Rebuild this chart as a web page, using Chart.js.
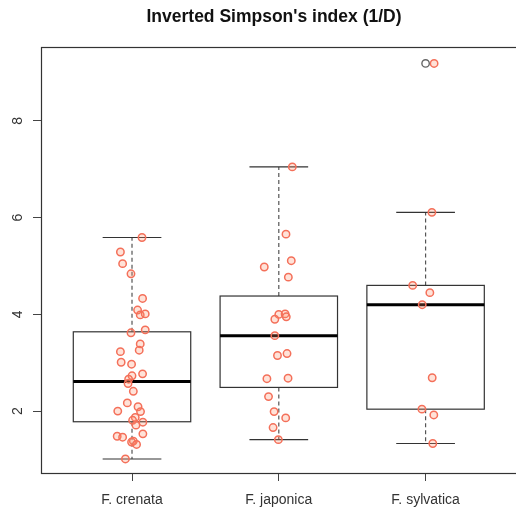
<!DOCTYPE html>
<html>
<head>
<meta charset="utf-8">
<script src="https://cdn.jsdelivr.net/npm/chart.js@4"></script>
<style>
    body { margin: 0; width: 516px; height: 508px; overflow: hidden; background: #fff; }
    #wrap { width: 522px; height: 508px; }
</style>
</head>
<body>
<div id="wrap"><canvas id="myChart"></canvas></div>
<script>
const categories = ['F. crenata', 'F. japonica', 'F. sylvatica'];
const yTicks = [2, 4, 6, 8];

// values, with the horizontal jitter of each point
const crenataValues = [5.59, 5.29, 5.05, 4.84, 4.33, 4.09, 3.99, 4.01, 3.68, 3.62, 3.39, 3.26, 3.23, 3.01, 2.97,
    2.77, 2.73, 2.66, 2.57, 2.41, 2.17, 2.09, 2.00, 1.99, 1.87, 1.81, 1.77, 1.71, 1.53, 1.48, 1.46, 1.38, 1.36, 1.31, 1.01];
const crenataJitter = [0.068, -0.079, -0.064, -0.007, 0.072, 0.038, 0.056, 0.090, 0.090, -0.007, 0.056, 0.049, -0.079, -0.074, -0.003,
    0.072, 0.000, -0.023, -0.027, 0.009, -0.032, 0.041, -0.097, 0.058, 0.022, 0.004, 0.074, 0.027, 0.074, -0.101, -0.064, 0.009, -0.003, 0.031, -0.045];

const japonicaValues = [7.05, 5.66, 5.11, 4.98, 4.77, 4.00, 4.01, 3.90, 3.95, 3.56, 3.19, 3.15, 2.67, 2.68, 2.30, 1.99, 1.86, 1.66, 1.41];
const japonicaJitter = [0.092, 0.049, 0.085, -0.099, 0.065, 0.000, 0.043, -0.027, 0.051, -0.027, 0.056, -0.009, -0.081, 0.063, -0.070, -0.032, 0.047, -0.039, -0.003];

const sylvaticaValues = [9.19, 6.11, 4.60, 4.45, 4.20, 2.69, 2.04, 1.92, 1.33];
const sylvaticaJitter = [0.058, 0.043, -0.088, 0.029, -0.023, 0.045, -0.025, 0.056, 0.049];

// box statistics per category
const lowerWhisker = [1.01, 1.41, 1.33];
const lowerHinge = [1.78, 2.49, 2.04];
const medians = [2.61, 3.56, 4.20];
const upperHinge = [3.64, 4.38, 4.60];
const upperWhisker = [5.59, 7.05, 6.11];
const outlierValues = [9.19];
const outlierGroup = [3];

const FONT = "'Liberation Sans', Arial, Helvetica, sans-serif";

function toPoints(values, jitter, group) {
    return values.map((v, i) => ({ x: group + jitter[i], y: v }));
}

const boxPlugin = {
    id: 'boxes',
    beforeDatasetsDraw(chart) {
        const { ctx, chartArea, scales: { x, y } } = chart;
        ctx.save();
        // plot frame
        ctx.strokeStyle = '#333';
        ctx.lineWidth = 1.2;
        ctx.strokeRect(chartArea.left + 0.5, chartArea.top + 0.5, chartArea.right - chartArea.left, chartArea.bottom - chartArea.top);

        categories.forEach((c, i) => {
            const g = i + 1;
            const xc = x.getPixelForValue(g);
            const xl = x.getPixelForValue(g - 0.4), xr = x.getPixelForValue(g + 0.4);
            const cl = x.getPixelForValue(g - 0.2), cr = x.getPixelForValue(g + 0.2);
            const yLo = y.getPixelForValue(lowerWhisker[i]);
            const yQ1 = y.getPixelForValue(lowerHinge[i]);
            const yMed = y.getPixelForValue(medians[i]);
            const yQ3 = y.getPixelForValue(upperHinge[i]);
            const yHi = y.getPixelForValue(upperWhisker[i]);

            // whiskers
            ctx.strokeStyle = '#555';
            ctx.lineWidth = 1.2;
            ctx.setLineDash([4, 3]);
            ctx.beginPath();
            ctx.moveTo(xc, yQ3); ctx.lineTo(xc, yHi);
            ctx.moveTo(xc, yQ1); ctx.lineTo(xc, yLo);
            ctx.stroke();
            ctx.setLineDash([]);

            // caps
            ctx.strokeStyle = '#333';
            ctx.beginPath();
            ctx.moveTo(cl, yHi); ctx.lineTo(cr, yHi);
            ctx.moveTo(cl, yLo); ctx.lineTo(cr, yLo);
            ctx.stroke();

            // box
            ctx.strokeRect(xl, yQ3, xr - xl, yQ1 - yQ3);

            // median
            ctx.strokeStyle = '#000';
            ctx.lineWidth = 3;
            ctx.beginPath();
            ctx.moveTo(xl, yMed); ctx.lineTo(xr, yMed);
            ctx.stroke();
        });
        ctx.restore();
    },
    afterDraw(chart) {
        const { ctx, scales: { y } } = chart;
        ctx.save();
        ctx.fillStyle = '#111';
        ctx.font = 'bold 17.5px ' + FONT;
        ctx.textAlign = 'center';
        ctx.textBaseline = 'middle';
        ctx.fillText("Inverted Simpson's index (1/D)", 274, 17);

        ctx.fillStyle = '#333';
        ctx.font = '14px ' + FONT;
        ctx.textBaseline = 'alphabetic';
        y.ticks.forEach(t => {
            ctx.save();
            ctx.translate(22, y.getPixelForValue(t.value));
            ctx.rotate(-Math.PI / 2);
            ctx.fillText(String(t.value), 0, 0);
            ctx.restore();
        });
        ctx.restore();
    }
};

const pointStyle = {
    pointRadius: 3.7,
    pointHoverRadius: 3.7,
    pointBorderWidth: 1.5,
    pointBorderColor: '#F4705A',
    pointBackgroundColor: 'rgba(255, 140, 100, 0.25)',
    showLine: false
};

const ctx = document.getElementById('myChart');

new Chart(ctx, {
    type: 'scatter',
    data: {
        datasets: [{
            label: 'outliers',
            data: outlierValues.map((v, i) => ({ x: outlierGroup[i], y: v })),
            pointRadius: 3.7,
            pointBorderWidth: 1.4,
            pointBorderColor: '#666',
            pointBackgroundColor: 'rgba(0,0,0,0)'
        }, {
            label: categories[0],
            data: toPoints(crenataValues, crenataJitter, 1),
            ...pointStyle
        }, {
            label: categories[1],
            data: toPoints(japonicaValues, japonicaJitter, 2),
            ...pointStyle
        }, {
            label: categories[2],
            data: toPoints(sylvaticaValues, sylvaticaJitter, 3),
            ...pointStyle
        }]
    },
    options: {
        responsive: true,
        maintainAspectRatio: false,
        animation: false,
        devicePixelRatio: 1,
        layout: { padding: { top: 47, right: 1, left: 0, bottom: 0 } },
        plugins: {
            legend: { display: false },
            title: { display: false },
            tooltip: { enabled: false }
        },
        scales: {
            x: {
                type: 'linear',
                min: 0.38,
                max: 3.62,
                afterBuildTicks: (scale) => { scale.ticks = [1, 2, 3].map(v => ({ value: v })); },
                afterFit: (scale) => { scale.height = 35; },
                border: { display: false },
                grid: { display: true, drawOnChartArea: false, drawTicks: true, tickLength: 8, color: '#444' },
                ticks: {
                    callback: (v) => categories[v - 1],
                    font: { size: 14, family: FONT },
                    color: '#333',
                    padding: 11,
                    maxRotation: 0,
                    autoSkip: false
                }
            },
            y: {
                min: 0.72,
                max: 9.53,
                afterBuildTicks: (scale) => { scale.ticks = yTicks.map(v => ({ value: v })); },
                afterFit: (scale) => { scale.width = 41; },
                border: { display: false },
                grid: { display: true, drawOnChartArea: false, drawTicks: true, tickLength: 8, color: '#444' },
                ticks: { display: false }
            }
        }
    },
    plugins: [boxPlugin]
});
</script>
</body>
</html>
